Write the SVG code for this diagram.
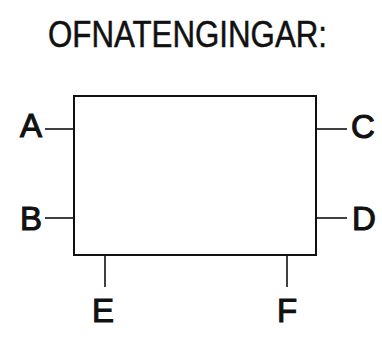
<svg xmlns="http://www.w3.org/2000/svg" width="382" height="345" viewBox="0 0 382 345">
<style>
.t{font-family:"Liberation Sans","DejaVu Sans",sans-serif;fill:#111;stroke:#111;stroke-width:1.1;}
.title{stroke-width:0.5;}
.lbl{font-size:33px;text-anchor:middle;}
.ln{stroke:#111;stroke-width:1.6;fill:none;}
</style>
<rect width="382" height="345" fill="#fff"/>
<text class="t title" x="48" y="47" font-size="37" textLength="279" lengthAdjust="spacingAndGlyphs">OFNATENGINGAR:</text>
<g id="box">
<rect x="74" y="96" width="242" height="159" fill="none" stroke="#111" stroke-width="2"/>
</g>
<g id="connectors">
<line class="ln" x1="45" y1="129" x2="74" y2="129"/>
<line class="ln" x1="45" y1="218" x2="74" y2="218"/>
<line class="ln" x1="316" y1="129" x2="347" y2="129"/>
<line class="ln" x1="316" y1="218" x2="347" y2="218"/>
<line class="ln" x1="105" y1="255" x2="105" y2="287"/>
<line class="ln" x1="287" y1="255" x2="287" y2="287"/>
</g>
<g id="A"><text class="t lbl" x="31" y="137">A</text></g>
<g id="B"><text class="t lbl" x="31" y="230">B</text></g>
<g id="C"><text class="t lbl" x="363" y="138">C</text></g>
<g id="D"><text class="t lbl" x="364" y="230">D</text></g>
<g id="E"><text class="t lbl" x="103" y="322">E</text></g>
<g id="F"><text class="t lbl" x="287" y="322">F</text></g>
</svg>
